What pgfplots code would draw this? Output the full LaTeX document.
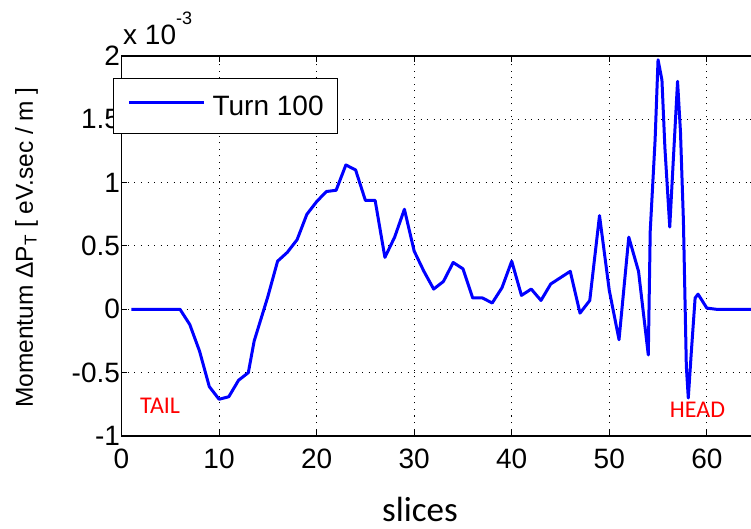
\documentclass[border=0pt]{standalone}
\usepackage{pgfplots}
\pgfplotsset{compat=1.18}
\usepackage{fontspec}
\setmainfont{Liberation Sans}
\newfontfamily\calibri{Carlito}

\definecolor{traceblue}{RGB}{0,0,255}

% transverse momentum kick per slice (units of 1e-3 eV.sec/m)
\pgfplotstableread{
x y
1 0
2 0
3 0
4 0
5 0
6 0
7 -0.12
8 -0.33
9 -0.61
10 -0.71
11 -0.69
12 -0.56
13 -0.50
13.6 -0.25
14 -0.15
15 0.10
16 0.38
17 0.45
18 0.55
19 0.75
20 0.85
21 0.93
22 0.94
23 1.14
24 1.10
25 0.86
26 0.86
27 0.41
28 0.57
29 0.79
30 0.46
31 0.30
32 0.16
33 0.22
34 0.37
35 0.32
36 0.09
37 0.09
38 0.05
39 0.17
40 0.38
41 0.11
42 0.16
43 0.07
44 0.20
45 0.25
46 0.30
47 -0.03
48 0.07
49 0.74
50 0.15
51 -0.24
52 0.57
53 0.30
54 -0.36
54.2 0.62
54.7 1.34
55 1.97
55.4 1.81
55.7 1.28
56.2 0.65
56.6 1.23
57 1.80
57.3 1.40
57.6 0.70
57.9 -0.45
58.1 -0.70
58.4 -0.35
58.8 0.09
59.1 0.12
60 0.01
61 0
62 0
63 0
64 0
65 0
}\momentum

\begin{document}
\begin{tikzpicture}
\begin{axis}[
  scale only axis,
  width=634.1pt, height=380pt,
  xmin=0, xmax=65, ymin=-1, ymax=2,
  xtick={0,10,20,30,40,50,60},
  ytick={-1,-0.5,0,0.5,1,1.5,2},
  yticklabels={-1,-0.5,0,0.5,1,1.5,2},
  tick align=inside,
  major tick length=6pt,
  tick style={black, line width=1pt},
  axis line style={black, line width=1.2pt},
  grid=major,
  major grid style={black, line width=1pt, dash pattern=on 1pt off 5.5pt},
  ticklabel style={font=\fontsize{28}{28}\selectfont},
  /pgf/number format/assume math mode=true,
  xticklabel style={yshift=-9pt},
  yticklabel style={xshift=2pt},
  clip mode=individual,
  xlabel={slices},
  xlabel style={at={(axis description cs:0.4707,0)}, anchor=base,
    yshift=-85pt, font=\calibri\fontsize{35}{35}\selectfont, inner sep=0pt},
  ylabel={Momentum ΔP\textsubscript{T} [ eV.sec / m ]},
  ylabel style={at={(axis description cs:-0.1396,0.496)}, anchor=base,
    font=\fontsize{24.5}{24.5}\selectfont, inner sep=0pt},
  legend style={at={(-0.0134,0.942)}, anchor=north west, draw=black,
    line width=1.2pt, font=\fontsize{28}{28}\selectfont,
    inner xsep=14pt, inner ysep=17pt, column sep=7pt,
    nodes={inner sep=0pt}},
  legend cell align=left,
  legend image code/.code={\draw[#1] (0pt,0.35em) -- (75pt,0.35em);},
]
\addplot[traceblue, line width=3pt, line join=round] table[x=x, y=y] {\momentum};
\addlegendentry{Turn 100}

\node[anchor=base west, inner sep=0pt, font=\fontsize{28}{28}\selectfont]
  at ([xshift=1.5pt, yshift=11pt]rel axis cs:0,1)
  {x 10\raisebox{20pt}{\fontsize{18}{18}\selectfont -3}};
\node[anchor=base west, inner sep=0pt, text=red, font=\calibri\fontsize{24}{24}\selectfont]
  at (axis cs:1.9,-0.82) {TAIL};
\node[anchor=base west, inner sep=0pt, text=red, font=\calibri\fontsize{24}{24}\selectfont]
  at (axis cs:56.2,-0.85) {HEAD};
\end{axis}
\pgfresetboundingbox
\path[use as bounding box]
  ([xshift=-121.5pt, yshift=-93pt]current axis.south west) rectangle
  ([xshift=629.5pt, yshift=56pt]current axis.north west);
\end{tikzpicture}
\end{document}
